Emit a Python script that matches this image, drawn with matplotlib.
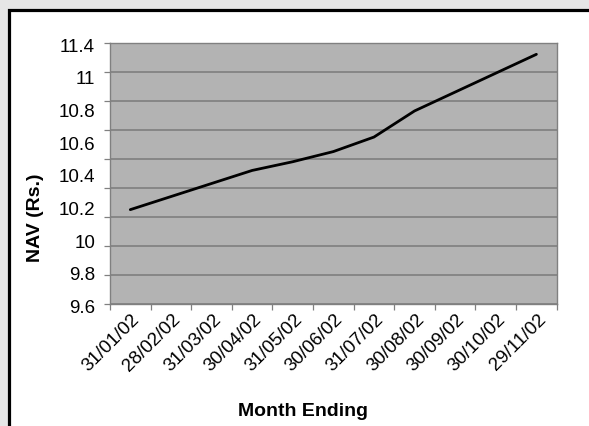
import matplotlib
matplotlib.use("Agg")
import matplotlib.pyplot as plt
from matplotlib.patches import Rectangle
from matplotlib.transforms import ScaledTranslation
import numpy as np

plt.rcParams['font.family'] = ['Liberation Sans', 'DejaVu Sans']

# Month-end NAV values
months = ["31/01/02", "28/02/02", "31/03/02", "30/04/02", "31/05/02", "30/06/02",
          "31/07/02", "30/08/02", "30/09/02", "30/10/02", "29/11/02"]
nav = [10.25, 10.34, 10.43, 10.52, 10.58, 10.65, 10.75, 10.93, 11.06, 11.19, 11.32]

# Value axis: gridlines every 0.2, with the printed scale labels
grid_values = [9.6, 9.8, 10.0, 10.2, 10.4, 10.6, 10.8, 11.0, 11.2, 11.4]
ytick_labels = ["9.6", "9.8", "10", "10.2", "10.4", "10.6", "10.8", "11", "11.4"]

W, H, DPI = 589, 426, 100
fig = plt.figure(figsize=(W / DPI, H / DPI), dpi=DPI, facecolor="#e6e6e6")

# white panel with black border
panel = Rectangle((9 / W, -0.05), 1.1, 1 - 10 / H + 0.05, transform=fig.transFigure,
                  facecolor="white", edgecolor="black", linewidth=2.3, zorder=-10)
fig.patches.append(panel)

ax = fig.add_axes([110 / W, 1 - 304 / H, (556.7 - 110) / W, (304 - 42.7) / H])
ax.set_zorder(5)
ax.set_facecolor("#b3b3b3")
ax.xaxis.remove_overlapping_locs = False
ax.yaxis.remove_overlapping_locs = False

x = np.arange(len(months))
ax.plot(x, nav, color="black", linewidth=2.0, solid_joinstyle="round",
        solid_capstyle="round", zorder=3)

ax.set_xlim(-0.5, len(months) - 0.5)
ax.set_ylim(grid_values[0], grid_values[-1])

# horizontal gridlines
for g in grid_values:
    ax.axhline(g, color="#7a7a7a", linewidth=1.1, zorder=1)

for s in ax.spines.values():
    s.set_color("#808080")
    s.set_linewidth(1.0)

# y ticks: marks at gridlines, labels spread evenly over the axis
ax.set_yticks(grid_values)
ax.set_yticklabels([""] * len(grid_values))
ax.tick_params(axis="y", which="major", length=4.5, width=0.9, color="#808080",
               direction="out")
label_pos = np.linspace(grid_values[0], grid_values[-1], len(ytick_labels))
ax.set_yticks(label_pos, minor=True)
ax.set_yticklabels(ytick_labels, minor=True, fontsize=13.5)
ax.tick_params(axis="y", which="minor", length=0, pad=10.8)
for t in ax.get_yticklabels(minor=True):
    t.set_transform(t.get_transform() + ScaledTranslation(0, -2.5 / DPI, fig.dpi_scale_trans))

# x ticks: marks at category boundaries, labels at centres
ax.set_xticks(np.arange(-0.5, len(months), 1.0))
ax.set_xticklabels([""] * (len(months) + 1))
ax.tick_params(axis="x", which="major", length=4.5, width=0.9, color="#808080",
               direction="out")
ax.set_xticks(x, minor=True)
ax.set_xticklabels(months, minor=True, fontsize=13.5, rotation=45, ha="right",
                   va="center", rotation_mode="anchor")
ax.tick_params(axis="x", which="minor", length=0, pad=9.5)
for t in ax.get_xticklabels(minor=True):
    t.set_transform(t.get_transform() + ScaledTranslation(7 / DPI, 0, fig.dpi_scale_trans))

fig.text(35 / W, 1 - 218 / H, "NAV (Rs.)", rotation=90, ha="center", va="center",
         fontsize=14, fontweight="bold")
fig.text(302.5 / W, 1 - 411 / H, "Month Ending", ha="center", va="center",
         fontsize=14, fontweight="bold")

fig.savefig("out.png", dpi=DPI, facecolor=fig.get_facecolor())
